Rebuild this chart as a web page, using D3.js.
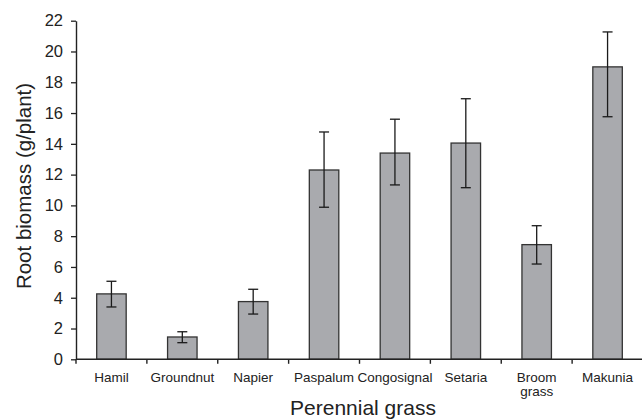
<!DOCTYPE html>
<html lang="en">
<head>
    <meta charset="UTF-8">
    <title>Root biomass of perennial grasses</title>
    <style>
        body, html {
            margin: 0;
            overflow: hidden;
            background: #fff;
        }
        text {
            font-family: "Liberation Sans", Arial, sans-serif;
            fill: #222;
        }
    </style>
</head>
<body>

<script src="https://d3js.org/d3.v7.min.js"></script>

<script>
    // Data
    const grasses = ["Hamil", "Groundnut", "Napier", "Paspalum", "Congosignal", "Setaria", "Broom grass", "Makunia"];
    const biomass = [4.25, 1.45, 3.75, 12.3, 13.4, 14.05, 7.45, 19.0];
    const errLow  = [3.40, 1.08, 2.94, 9.88, 11.33, 11.15, 6.19, 15.76];
    const errHigh = [5.07, 1.79, 4.55, 14.77, 15.6, 16.93, 8.68, 21.27];
    const yTicks = [0, 2, 4, 6, 8, 10, 12, 14, 16, 18, 20, 22];

    const width = 642,
        height = 419;
    const margin = {left: 76, right: 0, top: 20.7, bottom: 59.7};

    const svg = d3.create("svg")
        .attr("width", width)
        .attr("height", height);

    const x = d3.scaleBand()
        .domain(grasses)
        .range([margin.left, 643])
        .padding(0);

    const y = d3.scaleLinear()
        .domain([0, 22])
        .range([height - margin.bottom, margin.top]);

    const barW = x.bandwidth() * 0.416;
    const rows = grasses.map((g, i) => ({name: g, v: biomass[i], lo: errLow[i], hi: errHigh[i]}));

    // bars
    svg.append("g")
        .selectAll("rect")
        .data(rows)
        .join("rect")
        .attr("x", d => x(d.name) + (x.bandwidth() - barW) / 2)
        .attr("y", d => y(d.v))
        .attr("width", barW)
        .attr("height", d => y(0) - y(d.v))
        .attr("fill", "#a9aaae")
        .attr("stroke", "#333")
        .attr("stroke-width", 1.3);

    // error bars
    const eb = svg.append("g")
        .attr("stroke", "#1a1a1a")
        .attr("stroke-width", 1.3);

    eb.selectAll(".stem")
        .data(rows)
        .join("line")
        .attr("x1", d => x(d.name) + x.bandwidth() / 2)
        .attr("x2", d => x(d.name) + x.bandwidth() / 2)
        .attr("y1", d => y(d.lo))
        .attr("y2", d => y(d.hi));

    eb.selectAll(".cap")
        .data(rows.flatMap(d => [{name: d.name, v: d.lo}, {name: d.name, v: d.hi}]))
        .join("line")
        .attr("x1", d => x(d.name) + x.bandwidth() / 2 - 5)
        .attr("x2", d => x(d.name) + x.bandwidth() / 2 + 5)
        .attr("y1", d => y(d.v))
        .attr("y2", d => y(d.v));

    // y axis
    const yAxis = svg.append("g")
        .attr("transform", `translate(${margin.left},0)`)
        .call(d3.axisLeft(y).tickValues(yTicks).tickSize(5).tickPadding(8).tickSizeOuter(0));
    yAxis.select(".domain").attr("stroke", "#222").attr("stroke-width", 1.4);
    yAxis.selectAll(".tick line").attr("stroke", "#222").attr("stroke-width", 1.3);
    yAxis.selectAll(".tick text")
        .attr("font-size", 16.5)
        .attr("font-family", "'Liberation Sans', Arial, sans-serif")
        .attr("fill", "#222");

    // x axis: ticks sit on the category boundaries
    const bounds = grasses.map(g => x(g)).concat([x.range()[1]]);
    const xAxis = svg.append("g");
    xAxis.append("line")
        .attr("x1", margin.left)
        .attr("x2", x.range()[1])
        .attr("y1", y(0))
        .attr("y2", y(0))
        .attr("stroke", "#222")
        .attr("stroke-width", 1.4);
    xAxis.selectAll(".xtick")
        .data(bounds)
        .join("line")
        .attr("x1", d => d)
        .attr("x2", d => d)
        .attr("y1", y(0))
        .attr("y2", y(0) + 4.5)
        .attr("stroke", "#222")
        .attr("stroke-width", 1.4);

    // category labels (Broom grass wraps on two lines)
    xAxis.selectAll(".xlabel")
        .data(grasses)
        .join("text")
        .attr("x", d => x(d) + x.bandwidth() / 2)
        .attr("y", 382)
        .attr("text-anchor", "middle")
        .attr("font-size", 13.5)
        .each(function (d) {
            const parts = d === "Broom grass" ? ["Broom", "grass"] : [d];
            d3.select(this).selectAll("tspan")
                .data(parts)
                .join("tspan")
                .attr("x", x(d) + x.bandwidth() / 2)
                .attr("dy", (p, i) => i === 0 ? 0 : 13.5)
                .text(p => p);
        });

    // axis titles
    svg.append("text")
        .attr("x", 363)
        .attr("y", 415)
        .attr("text-anchor", "middle")
        .attr("font-size", 21)
        .text("Perennial grass");

    svg.append("text")
        .attr("transform", "translate(31,186) rotate(-90)")
        .attr("text-anchor", "middle")
        .attr("font-size", 20.5)
        .text("Root biomass (g/plant)");

    document.body.appendChild(svg.node());
</script>

</body>
</html>
